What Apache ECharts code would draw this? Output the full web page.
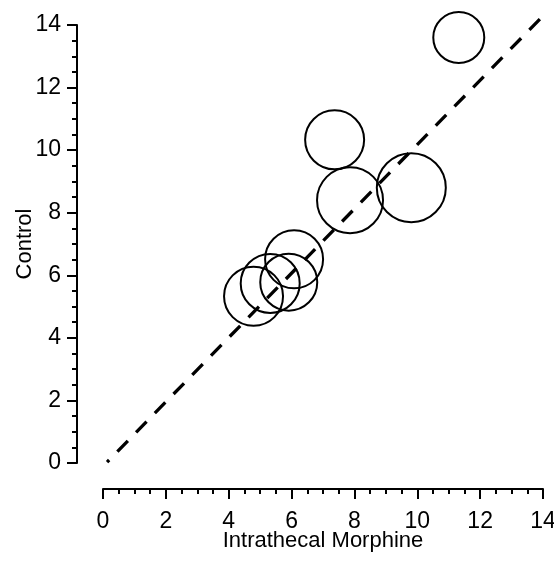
<!DOCTYPE html>
<html>
<head>
<meta charset="utf-8">
<script src="https://cdn.jsdelivr.net/npm/echarts@6/dist/echarts.min.js"></script>
<style>
  html, body { margin: 0; padding: 0; background: #fff; }
  #chart { width: 554px; height: 562px; }
</style>
</head>
<body>
<div id="chart"></div>
<script>
// Bubble data
const morphine = [11.32, 7.37, 7.86, 9.81, 6.08, 4.79, 5.32, 5.91];
const control = [13.60, 10.33, 8.40, 8.80, 6.51, 5.33, 5.74, 5.78];
const weight = [5.1, 5.9, 6.6, 6.9, 5.8, 5.9, 5.9, 5.7];

// Identity-ish reference line (drawn top to bottom)
const lineX = [13.90, 0.13];
const lineY = [14.19, 0.03];

const axisTicks = [0, 2, 4, 6, 8, 10, 12, 14];

const FONT = "'Liberation Sans', Arial, sans-serif";

const chart = echarts.init(document.getElementById('chart'));

const axisCommon = {
  type: 'value',
  min: axisTicks[0],
  max: axisTicks[axisTicks.length - 1],
  interval: 2,
  offset: 26,
  nameLocation: 'middle',
  nameMoveOverlap: false,
  nameTextStyle: { fontFamily: FONT, fontSize: 22, color: '#000' },
  axisLine: { show: true, onZero: false, lineStyle: { color: '#000', width: 2 } },
  axisTick: { show: true, inside: false, length: 10, lineStyle: { color: '#000', width: 2 } },
  minorTick: { show: true, splitNumber: 4, length: 5, lineStyle: { color: '#000', width: 2 } },
  axisLabel: { fontFamily: FONT, fontSize: 23, color: '#000' },
  splitLine: { show: false },
};

const option = {
  backgroundColor: '#fff',
  animation: false,
  grid: { left: 103, right: 11, top: 25, bottom: 99, containLabel: false, outerBoundsMode: 'none' },
  xAxis: Object.assign({}, axisCommon, {
    name: 'Intrathecal Morphine',
    nameGap: 41,
    axisLabel: Object.assign({}, axisCommon.axisLabel, { margin: 21 }),
  }),
  yAxis: Object.assign({}, axisCommon, {
    name: 'Control',
    nameGap: 41,
    axisLabel: Object.assign({}, axisCommon.axisLabel, { margin: 16 }),
  }),
  series: [
    {
      type: 'line',
      data: lineX.map((x, i) => [x, lineY[i]]),
      symbol: 'none',
      clip: false,
      lineStyle: { color: '#000', width: 3.3, type: [15, 11.8] },
      z: 1,
    },
    {
      type: 'scatter',
      data: morphine.map((x, i) => [x, control[i], weight[i]]),
      symbol: 'circle',
      symbolSize: (d) => d[2] * 10,
      itemStyle: { color: 'rgba(0,0,0,0)', borderColor: '#000', borderWidth: 2, opacity: 1 },
      z: 2,
    },
  ],
};

chart.setOption(option);
</script>
</body>
</html>
